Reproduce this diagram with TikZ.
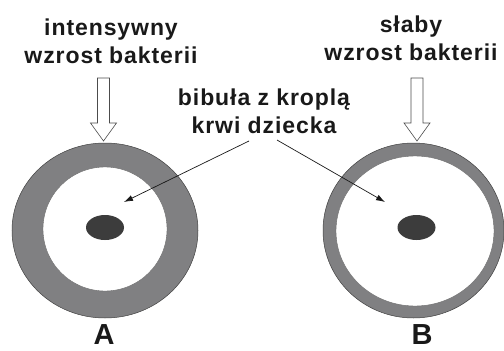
\documentclass[tikz,border=0pt]{standalone}
\usepackage{fontspec}
\setmainfont{Liberation Sans}
\usetikzlibrary{arrows.meta,shapes.geometric}
\definecolor{ringgray}{RGB}{128,128,130}
\definecolor{dotgray}{RGB}{60,60,60}
\definecolor{txt}{RGB}{25,25,25}
\tikzset{
  lbl/.style={font=\bfseries\fontsize{23}{28}\selectfont\addfontfeature{LetterSpace=4}, text=txt, align=center, inner sep=0pt, anchor=base},
  letter/.style={font=\bfseries\fontsize{29}{29}\selectfont, text=txt, inner sep=0pt, anchor=base},
  outerring/.style={ellipse, fill=ringgray, draw=black!75, line width=0.5pt, inner sep=0pt},
  innerdisc/.style={ellipse, fill=white, draw=black!60, line width=0.4pt, inner sep=0pt},
  spot/.style={ellipse, fill=dotgray, draw=none, minimum width=38pt, minimum height=25pt, inner sep=0pt},
  arrowbox/.style={fill=white, draw=black!70, line width=0.6pt, line join=miter},
  leader/.style={draw=txt, line width=0.7pt, -{Latex[length=9pt,width=6pt]}},
  hollowdown/.pic={\path[arrowbox] (-6,0) -- (6,0) -- (6,45) -- (13,45) -- (0,63) -- (-13,45) -- (-6,45) -- cycle;}
}
\begin{document}
\begin{tikzpicture}[x=1pt,y=-1pt]
\useasboundingbox (0,0) rectangle (504,351);
% rings
\node[outerring, minimum width=186pt, minimum height=175pt] (ringA) at (105,230.5) {};
\node[innerdisc, minimum width=124pt, minimum height=124pt] (holeA) at (105,229) {};
\node[spot] (dotA) at (105,227.5) {};
\node[outerring, minimum width=181pt, minimum height=175pt] (ringB) at (413.5,230.5) {};
\node[innerdisc, minimum width=158pt, minimum height=150pt] (holeB) at (415,231) {};
\node[spot] (dotB) at (416.5,227.5) {};
% hollow arrows
\pic at (103.5,78) {hollowdown};
\pic at (417,78) {hollowdown};
% texts
\node[lbl] (topA) at (111,63) {intensywny\\wzrost bakterii};
\node[lbl] (topB) at (411,60) {słaby\\wzrost bakterii};
\node[lbl] (mid) at (264,133) {bibuła z kroplą\\krwi dziecka};
\node[letter] (labA) at (104,344.5) {A};
\node[letter] (labB) at (422,344.5) {B};
% leaders
\coordinate (sA) at (249,141);
\coordinate (tA) at (124,202);
\coordinate (sB) at (277,140);
\coordinate (tB) at (385,202);
\draw[leader] (sA) -- (tA);
\draw[leader] (sB) -- (tB);
\end{tikzpicture}
\end{document}
